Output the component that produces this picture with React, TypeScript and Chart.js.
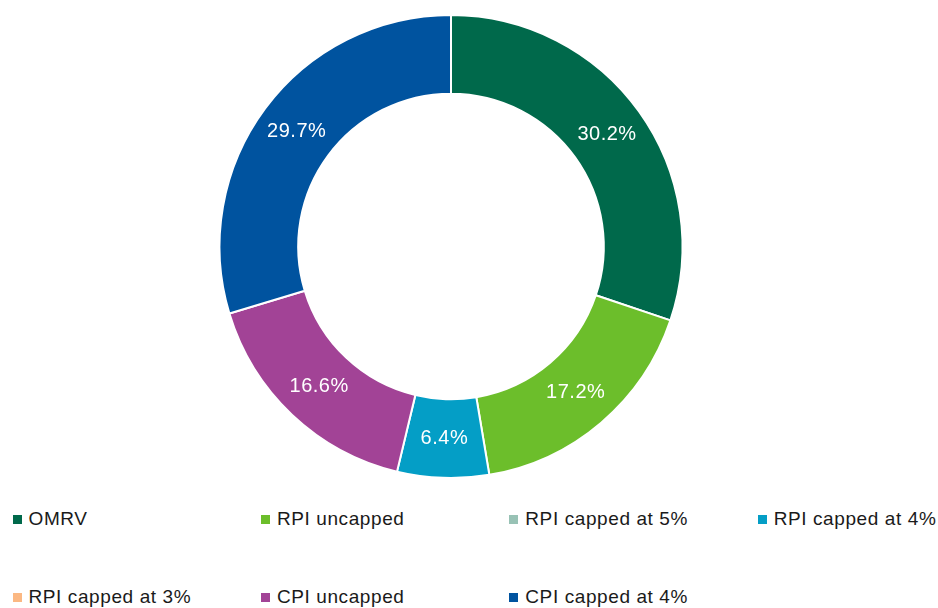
import React, { useEffect, useRef } from "react";
import { Chart, registerables } from "chart.js";

Chart.register(...registerables);

const categories = [
  "OMRV",
  "RPI uncapped",
  "RPI capped at 5%",
  "RPI capped at 4%",
  "RPI capped at 3%",
  "CPI uncapped",
  "CPI capped at 4%",
];
const shares = [30.2, 17.2, 0, 6.4, 0, 16.6, 29.7];
const colors = ["#00694B", "#6CBE2B", "#98C2B5", "#049EC6", "#FBB883", "#A24396", "#00539F"];

const FONT = "'Liberation Sans', Arial, sans-serif";

const labelPlugin = {
  id: "sliceLabels",
  afterDatasetsDraw(chart: any) {
    const ctx = chart.ctx;
    const meta = chart.getDatasetMeta(0);
    ctx.save();
    ctx.fillStyle = "#ffffff";
    ctx.font = `20px ${FONT}`;
    try {
      (ctx as any).letterSpacing = "0.5px";
    } catch (e) {}
    ctx.textAlign = "center";
    ctx.textBaseline = "middle";
    meta.data.forEach((arc: any, i: number) => {
      const v = shares[i];
      if (!v) return;
      const p = arc.getCenterPoint();
      ctx.fillText(v.toFixed(1) + "%", p.x, p.y);
    });
    ctx.restore();
  },
};

export default function App() {
  const ref = useRef<HTMLCanvasElement | null>(null);
  useEffect(() => {
    document.body.style.margin = "0";
    if (!ref.current) return;
    const chart = new Chart(ref.current, {
      type: "doughnut",
      data: {
        labels: categories,
        datasets: [
          {
            data: shares,
            backgroundColor: colors,
            borderColor: "#ffffff",
            borderWidth: 2,
          },
        ],
      },
      options: {
        animation: false,
        responsive: false,
        cutout: "66%",
        layout: { padding: { top: 6, bottom: 19, left: 0, right: 36 } },
        plugins: {
          legend: { display: false },
          tooltip: { enabled: false },
        },
      },
      plugins: [labelPlugin],
    });
    return () => chart.destroy();
  }, []);

  return (
    <div
      style={{
        width: 938,
        height: 608,
        boxSizing: "border-box",
        paddingLeft: 8,
        paddingTop: 8,
        overflow: "hidden",
        fontFamily: FONT,
      }}
    >
      <canvas ref={ref} width={922} height={490} style={{ display: "block", width: 922, height: 490 }} />
      <div
        style={{
          display: "grid",
          gridTemplateColumns: "248.4px 248.4px 248.4px 180px",
          rowGap: 58,
          marginTop: 11,
          paddingLeft: 4.5,
        }}
      >
        {categories.map((c, i) => (
          <div key={c} style={{ display: "flex", alignItems: "center", height: 20, whiteSpace: "nowrap" }}>
            <span style={{ display: "inline-block", width: 9, height: 9, background: colors[i], marginRight: 7, flex: "none" }} />
            <span style={{ fontSize: 19, lineHeight: "20px", letterSpacing: 0.6, color: "#1a1a1a" }}>{c}</span>
          </div>
        ))}
      </div>
    </div>
  );
}
